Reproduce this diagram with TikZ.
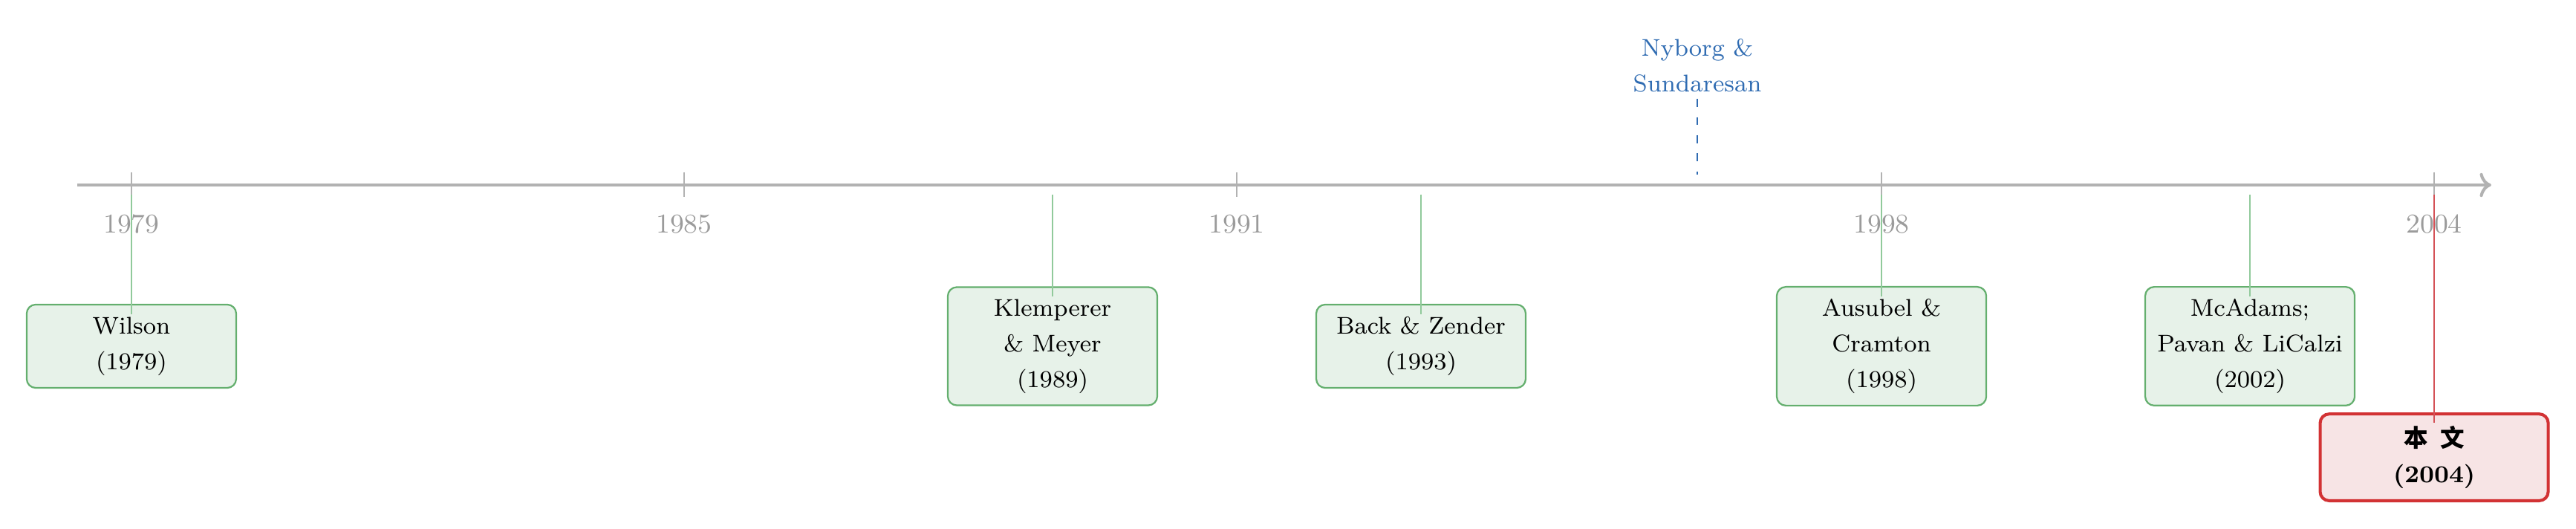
\documentclass[tikz,border=0pt]{standalone}
\usepackage{fontspec}
\newfontfamily\cjk{Noto Sans CJK SC}
\usetikzlibrary{positioning,arrows.meta}
\definecolor{axgray}{RGB}{178,178,178}
\definecolor{yrgray}{RGB}{155,155,155}
\definecolor{evgreen}{RGB}{100,175,110}
\definecolor{evfill}{RGB}{231,242,233}
\definecolor{evstem}{RGB}{145,202,155}
\definecolor{ownred}{RGB}{210,50,52}
\definecolor{ownstem}{RGB}{212,82,88}
\definecolor{ownfill}{RGB}{247,228,229}
\definecolor{nsblue}{RGB}{48,108,178}
\tikzset{
  axis/.style={->,line width=1pt,axgray},
  yrtick/.style={line width=0.45pt,axgray},
  yrlbl/.style={font=\small,yrgray,inner sep=1pt},
  evbox/.style={draw=evgreen,fill=evfill,line width=0.55pt,rounded corners=3pt,
    minimum width=2.44cm,minimum height=0.97cm,inner sep=4pt,align=center,
    font=\fontsize{8}{11.8}\selectfont},
  ownbox/.style={draw=ownred,fill=ownfill,line width=1pt,rounded corners=3pt,
    minimum width=2.656cm,minimum height=0.995cm,inner sep=4pt,align=center,
    font=\fontsize{8}{11.8}\selectfont\bfseries},
  evline/.style={line width=0.45pt,evstem},
  ownline/.style={line width=0.55pt,ownstem},
  nslbl/.style={nsblue,align=center,inner sep=2pt,
    font=\fontsize{8}{11.8}\selectfont},
  nsline/.style={dash pattern=on 2.6pt off 3.4pt,line width=0.55pt,nsblue},
}
\begin{document}
\begin{tikzpicture}[x=1.0727cm]
  \useasboundingbox (-1.427,-3.997) rectangle (26.54,2.154);
  % time axis with year marks
  \draw[axis] (-0.589,0) -- (25.62,0);
  \foreach \y in {1979,1985,1991,1998,2004}{
    \draw[yrtick] (\y-1979,0.15) -- (\y-1979,-0.14);
    \node[yrlbl] (y\y) at (\y-1979,-0.458) {\y};
  }
  % stems start just under the axis
  \foreach \n/\y in {wil/1979,kle/1989,bac/1993,aus/1998,mca/2002,own/2004}
    \coordinate (t\n) at (\y-1979,-0.11);
  \node[evbox] (wil) at (0,-1.877) {Wilson\\(1979)};
  \node[evbox] (kle) at (10,-1.877) {Klemperer\\\& Meyer\\(1989)};
  \node[evbox] (bac) at (14,-1.877) {Back \& Zender\\(1993)};
  \node[evbox] (aus) at (19,-1.877) {Ausubel \&\\Cramton\\(1998)};
  \node[evbox] (mca) at (23,-1.877) {McAdams;\\Pavan \& LiCalzi\\(2002)};
  \node[ownbox] (own) at (25,-3.171) {{\cjk 本}\enspace{\cjk 文}\\(2004)};
  \foreach \n in {wil,kle,bac,aus,mca}
    \draw[evline] (t\n) -- ([yshift=-1.2mm]\n.north);
  \draw[ownline] (town) -- ([yshift=-1.2mm]own.north);
  % the one above the axis
  \node[nslbl] (nys) at (17,1.39) {Nyborg \&\\Sundaresan};
  \coordinate (tnys) at (17,0.12);
  \draw[nsline] (nys.south) -- (tnys);
\end{tikzpicture}
\end{document}
